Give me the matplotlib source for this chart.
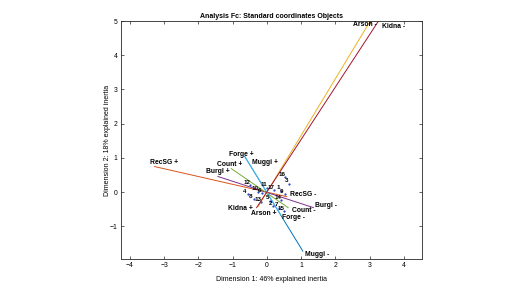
import matplotlib
matplotlib.use("Agg")
import matplotlib.pyplot as plt

plt.rcParams["font.family"] = ["Liberation Sans", "DejaVu Sans"]

# variables: each has a "+" and a "-" category (standard coordinates)
variables = ["Muggi", "RecSG", "Arson", "Burgl", "Count", "Forge", "Kidna"]
plus_x = [-0.65, -3.28, -0.25, -1.43, -1.04, -0.62, -0.30]
plus_y = [1.05, 0.75, -0.41, 0.46, 0.69, 1.00, -0.45]
minus_x = [1.05, 0.58, 3.02, 1.36, 0.62, 0.40, 3.26]
minus_y = [-1.72, -0.13, 5.00, -0.45, -0.45, -0.65, 5.00]

# objects 1..17
obj_labels = [str(i) for i in range(1, 18)]
obj_x = [0.41, 0.19, 0.66, -0.55, 0.10, -0.14, 0.36, -0.39, 0.52,
         -0.27, 0.00, -0.49, -0.17, 0.41, 0.51, 0.53, 0.22]
obj_y = [0.05, -0.41, 0.25, -0.06, -0.25, -0.03, -0.45, -0.21, -0.06,
         0.01, 0.13, 0.20, -0.30, -0.24, -0.55, 0.44, 0.06]

colors = ["#0072bd", "#d95319", "#edb120", "#7e2f8e", "#77ac30", "#4dbeee", "#a2142f"]
# label offsets in pixels (dx, dy) for + and - categories
plus_off = [(7, -6), (-5, 4), (-7, -7), (-12, 4.5), (-14, 4), (-16.5, 3.5), (-29, -1)]
minus_off = [(2.5, -3), (3.5, 2.5), (-17.5, -4), (2, 2.5), (3.5, -2.5), (1, -3), (3.5, -5)]

fig = plt.figure(figsize=(5.25, 2.92), dpi=100)
ax = fig.add_axes([121 / 525, 33 / 292, 301 / 525, 238 / 292])

for i, v in enumerate(variables):
    ax.plot([plus_x[i], minus_x[i]], [plus_y[i], minus_y[i]], color=colors[i], lw=0.7)

for i, v in enumerate(variables):
    ax.annotate(v + " +", (plus_x[i], plus_y[i]), xytext=plus_off[i],
                textcoords="offset pixels", ha="left", va="center",
                fontsize=4.9, fontweight="bold")
    ax.annotate(v + " -", (minus_x[i], minus_y[i]), xytext=minus_off[i],
                textcoords="offset pixels", ha="left", va="center",
                fontsize=4.9, fontweight="bold", annotation_clip=False)

ax.plot(obj_x, obj_y, ".", color="#1f3fbf", ms=1.2)
for i, lab in enumerate(obj_labels):
    ax.annotate(lab, (obj_x[i], obj_y[i]), xytext=(-3, 3), textcoords="offset pixels",
                ha="center", va="center", fontsize=4.5, fontweight="bold")

ax.set_xlim(-4.26, 4.53)
ax.set_ylim(-1.95, 5)
ax.set_xticks(range(-4, 5))
ax.set_yticks(range(-1, 6))
ax.tick_params(direction="in", length=2.5, width=0.5, labelsize=4.9, pad=2.5,
               top=True, right=True, color="#262626")
for s in ax.spines.values():
    s.set_color("#262626")
    s.set_linewidth(0.6)

ax.set_title("Analysis Fc: Standard coordinates Objects", fontsize=5,
             fontweight="bold", pad=2)
ax.set_xlabel("Dimension 1: 46% explained inertia", fontsize=5, labelpad=5)
ax.set_ylabel("Dimension 2: 18% explained inertia", fontsize=5, labelpad=-1)

fig.savefig("out.png", dpi=100)
